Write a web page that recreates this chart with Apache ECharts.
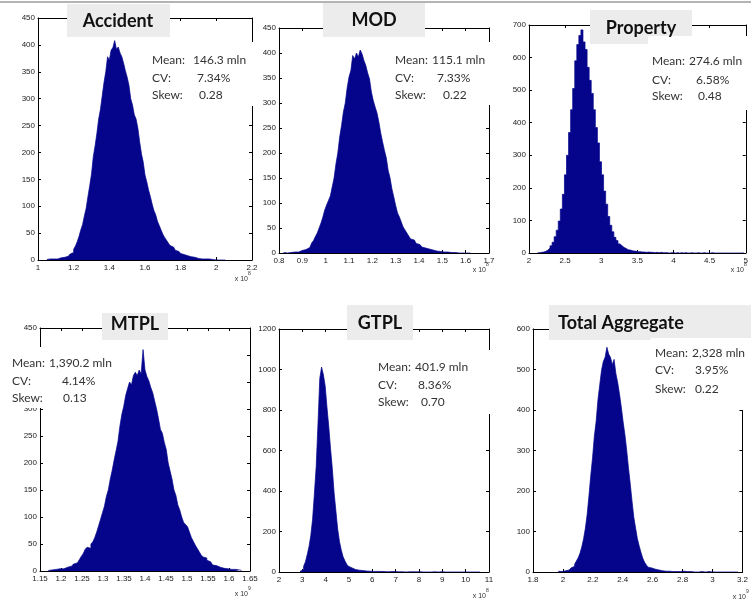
<!DOCTYPE html>
<html><head><meta charset="utf-8">
<script src="https://cdn.jsdelivr.net/npm/echarts@6/dist/echarts.min.js"></script>
<style>html,body{margin:0;padding:0;background:#fff}#c{width:751px;height:606px}</style>
</head><body><div id="c"></div>
<script>
// ---------------- DATA ----------------
const panelNames = ['Accident', 'MOD', 'Property', 'MTPL', 'GTPL', 'Total Aggregate'];

const accidentBinStart = 1.05, accidentBinWidth = 0.01;
const accidentCounts = [1,2,1,2,3,2,3,4,4,5,6,7,9,11,14,20,26,34,44,56,66,82,96,118,138,160,192,212,235,262,
  280,305,330,350,378,372,390,395,408,392,396,385,378,366,352,340,325,300,288,270,262,245,220,198,182,158,145,130,118,104,
  92,84,72,64,56,48,42,37,32,27,24,21,18,16,14,12,10,9,8,7,6,5,5,4,3,3,2,3,2,1,
  2,1,1,1,0,1,0,1,0,0];

const modBinStart = 0.82, modBinWidth = 0.008;
const modCounts = [1,0,1,1,2,2,3,2,4,5,6,7,9,11,14,20,25,33,40,50,60,72,86,96,105,114,132,150,178,200,
  232,255,282,300,330,352,365,395,388,400,392,406,398,385,375,360,348,322,305,292,280,262,240,222,205,190,165,150,128,112,
  95,80,72,62,52,46,40,34,28,26,22,19,17,14,12,10,8,8,6,6,5,4,5,3,3,2,3,2,2,1,
  2,1,1,0,1,0,1,0,1,0];

const propertyBinStart = 2.12, propertyBinWidth = 0.0285;
const propertyCounts = [1,2,3,5,9,15,22,33,50,70,98,135,180,240,300,370,440,505,590,640,
  668,685,648,625,570,530,490,440,385,338,280,240,190,150,112,85,65,48,38,28,
  22,17,14,10,9,7,6,5,4,4,3,3,2,3,2,2,1,2,1,2,
  1,1,1,0,1,1,0,1,0,1,0,1,0,0,1,0,0,1,0,0,
  1,0,0,0,1,0,0,0,0,0,0,0,0,0,0,0,0,0,0,1];

const mtplBinStart = 1.17, mtplBinWidth = 0.0046;
const mtplCounts = [1,2,2,3,2,4,5,4,6,7,8,9,11,13,15,17,21,27,32,40,
  44,42,50,54,62,72,84,96,108,120,138,150,170,186,205,222,240,268,290,305,
  325,338,350,345,362,368,362,372,365,410,372,360,352,340,330,315,300,282,262,255,
  238,225,200,185,170,150,140,122,113,100,90,86,82,72,62,55,48,42,36,30,
  26,24,20,17,14,11,10,8,7,6,5,5,4,3,3,2,3,1,2,1];

const gtplBinStart = 2.9, gtplBinWidth = 0.077;
const gtplCounts = [3,12,28,50,85,125,180,260,385,520,730,955,1012,975,920,815,720,610,510,390,
  300,210,150,107,75,55,38,28,20,15,12,10,9,7,7,6,5,5,4,5,
  3,4,3,2,3,2,2,3,1,2,2,1,2,1,1,2,1,1,0,1,
  1,0,1,0,1,0,1,0,0,1,0,1,0,0,1,0,0,0,1,0,
  0,0,0,1,0,0,0,0,0,1,0,0,0,0,0,0,0,0,0,1];

const totalBinStart = 1.97, totalBinWidth = 0.012;
const totalCounts = [2,1,3,3,4,5,7,10,14,19,27,35,46,62,82,108,142,188,238,282,
  335,372,425,462,498,520,530,555,538,530,512,525,490,468,440,408,372,340,302,258,
  218,175,135,108,82,64,48,34,24,17,12,10,8,7,5,5,4,3,3,2,
  3,2,2,1,2,1,2,1,1,2,0,1,0,1,1,0,1,0,0,1,
  0,0,0,1,0,0,0,0,0,0,0,0,0,0,0,0,0,0,0,0];

const xAxisMin  = [1, 0.8, 2, 1.15, 2, 1.8];
const xAxisMax  = [2.2, 1.7, 5, 1.65, 11, 3.2];
const xAxisStep = [0.2, 0.1, 0.5, 0.05, 1, 0.2];
const yAxisMax  = [450, 450, 700, 450, 1200, 600];
const yAxisStep = [50, 50, 100, 50, 200, 100];
const xExponent = ['8', '8', '8', '9', '8', '9'];

const statMean = ['146.3 mln', '115.1 mln', '274.6 mln', '1,390.2 mln', '401.9 mln', '2,328 mln'];
const statCV   = ['7.34%', '7.33%', '6.58%', '4.14%', '8.36%', '3.95%'];
const statSkew = ['0.28', '0.22', '0.48', '0.13', '0.70', '0.22'];

// ---------------- LAYOUT ----------------
const grids = [
  {left: 38,  top: 18,  width: 214, height: 242},
  {left: 279, top: 28,  width: 210, height: 225},
  {left: 529, top: 25,  width: 218, height: 228},
  {left: 40,  top: 328, width: 210, height: 243},
  {left: 279, top: 329, width: 210, height: 243},
  {left: 533, top: 329, width: 216, height: 243}
];
// title boxes [x, y, w, h, textX, textY, align]
const titleBoxes = [
  [67, 4, 103, 33, 118, 21, 'center'],
  [323, 3, 102, 34, 374, 20, 'center'],
  [590, 10, 102, 34, 641, 28, 'center'],
  [102, 313, 66, 27, 135, 324, 'center'],
  [347, 305, 66, 35, 380, 323, 'center'],
  [549, 305, 202, 35, 558, 323, 'left']
];
// stats boxes: [boxX, boxY, boxW, boxH, labelX, y1, y2, y3, v1X, v2X, v3X]
const statBoxes = [
  [147, 42, 106, 64, 152, 60, 78, 95, 193, 197, 199],
  [391, 42, 104, 63, 395, 60, 78, 95, 432, 437, 443],
  [648, 36, 103, 74, 652, 61, 80, 96, 689, 696, 698],
  [6, 347, 114, 61, 12, 363, 381, 398, 49, 62, 63],
  [373, 350, 122, 64, 378, 367, 385, 402, 415, 418, 421],
  [651, 338, 100, 72, 655, 353, 370, 389, 692, 695, 695]
];
// exponent label position [rightX, y]
const expPos = [[252, 279], [490, 270], [748, 270], [252, 594], [490, 596], [750, 597]];

// ---------------- BUILD ----------------
const histSets = [
  [accidentBinStart, accidentBinWidth, accidentCounts],
  [modBinStart, modBinWidth, modCounts],
  [propertyBinStart, propertyBinWidth, propertyCounts],
  [mtplBinStart, mtplBinWidth, mtplCounts],
  [gtplBinStart, gtplBinWidth, gtplCounts],
  [totalBinStart, totalBinWidth, totalCounts]
];

// step-line points: each bin's left edge with its count, plus the closing right edge
function toSteps(start, width, counts) {
  const pts = counts.map((c, i) => [start + i * width, c]);
  pts.push([start + counts.length * width, counts[counts.length - 1]]);
  return pts;
}
const fmt = v => String(+(+v).toFixed(4));
const tickFont = {fontSize: 8, fontFamily: 'Liberation Sans', color: '#222'};
const lineStyle = {color: '#000', width: 1};
const barColor = '#05058c';

const xAxes = [], yAxes = [], series = [], graphic = [];
grids.forEach((g, i) => {
  const base = {type: 'value', gridIndex: i, min: xAxisMin[i], max: xAxisMax[i], interval: xAxisStep[i],
    splitLine: {show: false}, axisLine: {show: true, onZero: false, lineStyle},
    axisTick: {show: true, inside: true, length: 3, lineStyle}};
  xAxes.push(Object.assign({}, base, {position: 'bottom',
    axisLabel: Object.assign({margin: 4, formatter: fmt, showMinLabel: true, showMaxLabel: true}, tickFont)}));
  xAxes.push(Object.assign({}, base, {position: 'top', axisLabel: {show: false}}));
  const ybase = {type: 'value', gridIndex: i, min: 0, max: yAxisMax[i], interval: yAxisStep[i],
    splitLine: {show: false}, axisLine: {show: true, onZero: false, lineStyle},
    axisTick: {show: true, inside: true, length: 3, lineStyle}};
  yAxes.push(Object.assign({}, ybase, {position: 'left',
    axisLabel: Object.assign({margin: 3, formatter: fmt}, tickFont)}));
  yAxes.push(Object.assign({}, ybase, {position: 'right', axisLabel: {show: false}}));

  const [s, w, c] = histSets[i];
  series.push({
    type: 'line', name: panelNames[i], xAxisIndex: 2 * i, yAxisIndex: 2 * i,
    step: 'end', symbol: 'none', showSymbol: false, clip: true, z: 3,
    data: toSteps(s, w, c),
    lineStyle: {color: barColor, width: 0.7},
    areaStyle: {color: barColor, opacity: 1, origin: 'start'}
  });

  const t = titleBoxes[i];
  graphic.push({type: 'rect', z: 100, shape: {x: t[0], y: t[1], width: t[2], height: t[3]}, style: {fill: '#ececec'}});
  graphic.push({type: 'text', z: 101, style: {text: panelNames[i], x: t[4], y: t[5], textAlign: t[6], textVerticalAlign: 'middle',
    font: 'bold 18px Lato', fill: '#111'}});

  const b = statBoxes[i];
  graphic.push({type: 'rect', z: 100, shape: {x: b[0], y: b[1], width: b[2], height: b[3]}, style: {fill: '#fff'}});
  const sf = '12px Lato';
  [['Mean:', b[5], statMean[i], b[8]], ['CV:', b[6], statCV[i], b[9]], ['Skew:', b[7], statSkew[i], b[10]]].forEach(r => {
    graphic.push({type: 'text', z: 101, style: {text: r[0], x: b[4], y: r[1], textVerticalAlign: 'middle', font: sf, fill: '#333'}});
    graphic.push({type: 'text', z: 101, style: {text: r[2], x: r[3], y: r[1], textVerticalAlign: 'middle', font: sf, fill: '#333'}});
  });

  const e = expPos[i];
  graphic.push({type: 'text', z: 101, style: {text: 'x 10', x: e[0] - 4, y: e[1], textAlign: 'right', textVerticalAlign: 'middle',
    font: '7px Liberation Sans', fill: '#333'}});
  graphic.push({type: 'text', z: 101, style: {text: xExponent[i], x: e[0] - 4, y: e[1] - 5, textAlign: 'left', textVerticalAlign: 'middle',
    font: '5px Liberation Sans', fill: '#333'}});
});
graphic.push({type: 'rect', z: 100, shape: {x: 0, y: 1, width: 751, height: 2}, style: {fill: '#b4b4b4'}});

const chart = echarts.init(document.getElementById('c'), null, {renderer: 'canvas'});
chart.setOption({
  animation: false,
  backgroundColor: '#fff',
  grid: grids.map(g => Object.assign({containLabel: false}, g)),
  xAxis: xAxes,
  yAxis: yAxes,
  series: series,
  graphic: graphic
});
</script></body></html>
